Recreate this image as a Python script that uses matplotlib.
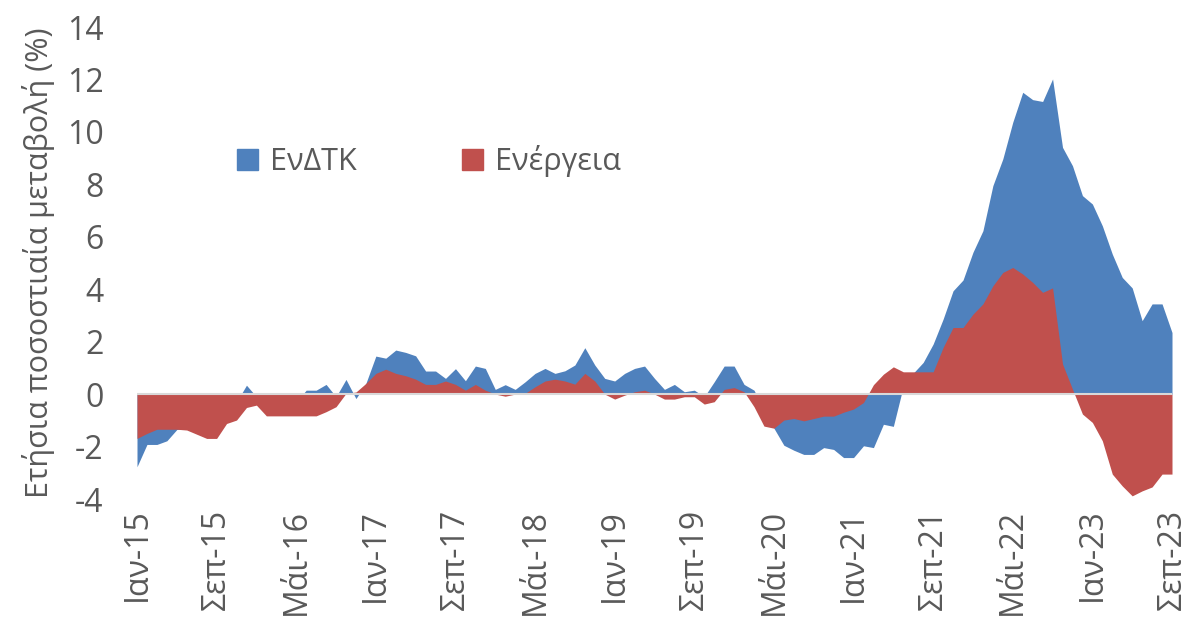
import matplotlib
matplotlib.use("Agg")
import matplotlib.pyplot as plt
from matplotlib.patches import Patch
import numpy as np

# Monthly data Jan-2015 .. Sep-2023 (105 months)
endtk = [
    -2.77, -1.92, -1.92, -1.78, -1.35, -1.30, -1.40, -1.50, -1.00, -0.80,
    -0.30, 0.34, -0.10, 0.06, -0.30, -0.30, -0.30, 0.15, 0.15, 0.37,
    -0.10, 0.56, -0.17, 0.41, 1.45, 1.37, 1.68, 1.59, 1.46, 0.88,
    0.88, 0.60, 0.97, 0.51, 1.07, 0.98, 0.18, 0.36, 0.18, 0.47,
    0.79, 0.98, 0.79, 0.89, 1.11, 1.77, 1.11, 0.60, 0.50, 0.79,
    0.98, 1.07, 0.60, 0.18, 0.37, 0.09, 0.15, -0.10, 0.47, 1.07,
    1.07, 0.37, 0.15, -0.60, -1.30, -1.95, -2.14, -2.30, -2.30, -2.04,
    -2.11, -2.42, -2.42, -1.97, -2.04, -1.15, -1.23, 0.30, 0.80, 1.21,
    1.91, 2.86, 3.94, 4.35, 5.41, 6.23, 7.95, 8.97, 10.37, 11.51,
    11.23, 11.16, 12.02, 9.41, 8.71, 7.57, 7.25, 6.42, 5.34, 4.45,
    4.05, 2.80, 3.44, 3.44, 2.35,
]
energeia = [
    -1.69, -1.50, -1.34, -1.34, -1.34, -1.37, -1.53, -1.69, -1.69, -1.12,
    -0.99, -0.51, -0.42, -0.83, -0.83, -0.83, -0.83, -0.83, -0.83, -0.67,
    -0.48, 0.03, 0.08, 0.41, 0.79, 0.95, 0.79, 0.70, 0.57, 0.37,
    0.37, 0.50, 0.37, 0.15, 0.37, 0.15, 0.00, -0.08, 0.00, 0.03,
    0.28, 0.50, 0.57, 0.50, 0.38, 0.79, 0.50, 0.00, -0.19, -0.04,
    0.09, 0.15, 0.00, -0.19, -0.19, -0.10, -0.10, -0.38, -0.29, 0.18,
    0.25, 0.09, -0.48, -1.22, -1.30, -0.99, -0.93, -1.02, -0.93, -0.84,
    -0.84, -0.69, -0.57, -0.32, 0.36, 0.76, 1.04, 0.85, 0.85, 0.85,
    0.85, 1.78, 2.54, 2.54, 3.05, 3.44, 4.13, 4.64, 4.83, 4.58,
    4.26, 3.88, 4.05, 1.15, 0.19, -0.76, -1.08, -1.78, -3.05, -3.50,
    -3.88, -3.69, -3.54, -3.05, -3.05,
]
tick_labels = ["Ιαν-15", "Σεπ-15", "Μάι-16", "Ιαν-17", "Σεπ-17", "Μάι-18", "Ιαν-19",
               "Σεπ-19", "Μάι-20", "Ιαν-21", "Σεπ-21", "Μάι-22", "Ιαν-23", "Σεπ-23"]
series_names = ["ΕνΔΤΚ", "Ενέργεια"]
y_ticks = [-4, -2, 0, 2, 4, 6, 8, 10, 12, 14]

plt.rcParams['font.family'] = ['Open Sans', 'DejaVu Sans']
grey = '#595959'
blue = '#4f81bd'
red = '#c0504d'
fs = 23

fig = plt.figure(figsize=(11.88, 6.29), dpi=100)
ax = fig.add_axes([137/1188, 1 - 499/629, (1172-137)/1188, (499-27)/629])

x = np.arange(len(endtk))
ax.fill_between(x, 0, endtk, color=blue, linewidth=0, zorder=2)
ax.fill_between(x, 0, energeia, color=red, linewidth=0, zorder=3)
ax.axhline(0, color='#d9d9d9', lw=1.5, zorder=4)

ax.set_xlim(0, len(endtk) - 1)
ax.set_ylim(-4, 14)
ax.set_yticks(y_ticks)
ax.set_yticklabels([str(v) for v in y_ticks])
ax.set_xticks(np.arange(0, len(endtk), 8))
ax.set_xticklabels(tick_labels, rotation=90)
ax.tick_params(axis='both', length=0, colors=grey, labelsize=fs)
ax.tick_params(axis='x', pad=7)
ax.tick_params(axis='y', pad=24)
for s in ax.spines.values():
    s.set_visible(False)
ax.set_ylabel("Ετήσια ποσοστιαία μεταβολή (%)", fontsize=22, color=grey)
ax.yaxis.set_label_coords(-0.079, 0.5)

handles = [Patch(color=blue), Patch(color=red)]
leg = ax.legend(handles, series_names, ncol=2, frameon=False, fontsize=22,
                labelcolor=grey, handlelength=0.68, handleheight=0.68,
                handletextpad=0.4, columnspacing=3.45,
                loc='center left', bbox_to_anchor=(0.070, 0.716))

fig.savefig("out.png", dpi=100)
